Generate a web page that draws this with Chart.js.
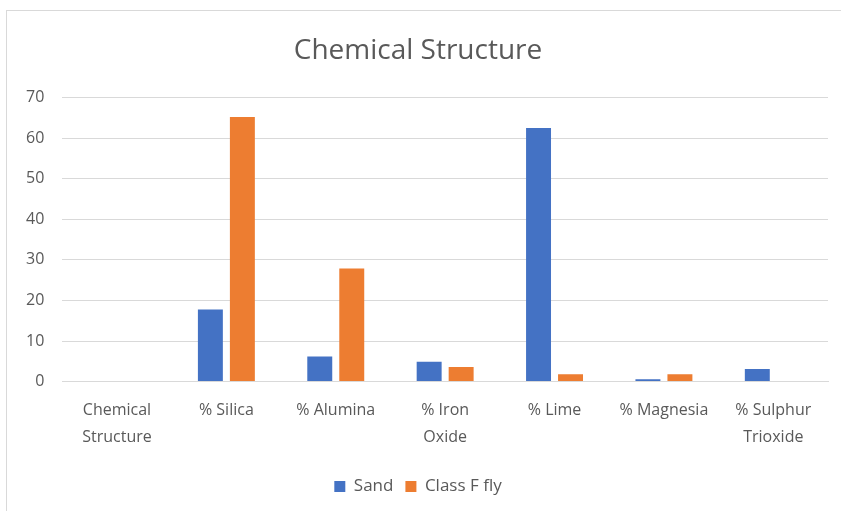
<!DOCTYPE html>
<html>
<head>
<meta charset="utf-8">
<script src="https://cdn.jsdelivr.net/npm/chart.js@4.4.0/dist/chart.umd.min.js"></script>
<style>
  html, body { margin: 0; padding: 0; background: #ffffff; }
  #wrap { position: relative; width: 841px; height: 511px; }
</style>
</head>
<body>
<div id="wrap"><canvas id="chimie"></canvas></div>
<script>
const categorias = [
  ["Chemical", "Structure"],
  "% Silica",
  "% Alumina",
  ["% Iron", "Oxide"],
  "% Lime",
  "% Magnesia",
  ["% Sulphur", "Trioxide"]
];
const areia = [0, 17.8, 6.2, 4.9, 62.5, 0.6, 3.1];
const cinzaVolante = [0, 65.2, 27.9, 3.6, 1.8, 1.8, 0];
const yTicks = [0, 10, 20, 30, 40, 50, 60, 70];

const textoCinza = "#595959";
const fonte = "'Open Sans', 'Liberation Sans', sans-serif";

// moldura cinza em volta do gráfico
const moldura = {
  id: "moldura",
  beforeDraw(chart) {
    const ctx = chart.ctx;
    ctx.save();
    ctx.fillStyle = "#ffffff";
    ctx.fillRect(0, 0, chart.width, chart.height);
    ctx.strokeStyle = "#d9d9d9";
    ctx.lineWidth = 1;
    ctx.strokeRect(6.5, 10.5, chart.width - 4, chart.height - 4);
    ctx.restore();
  }
};

new Chart(document.getElementById("chimie"), {
  type: "bar",
  data: {
    labels: categorias,
    datasets: [
      {
        label: "Sand",
        data: areia,
        backgroundColor: "#4472C4",
        borderWidth: 0,
        categoryPercentage: 0.585,
        barPercentage: 0.78
      },
      {
        label: "Class F fly",
        data: cinzaVolante,
        backgroundColor: "#ED7D31",
        borderWidth: 0,
        categoryPercentage: 0.585,
        barPercentage: 0.78
      }
    ]
  },
  options: {
    responsive: true,
    maintainAspectRatio: false,
    animation: false,
    layout: {
      padding: { left: 8, right: 13, top: 24, bottom: 6 }
    },
    scales: {
      x: {
        grid: { display: false, drawTicks: false },
        border: { display: true, color: "#d9d9d9" },
        ticks: {
          color: textoCinza,
          font: { family: fonte, size: 16, lineHeight: 1.7 },
          padding: 15,
          maxRotation: 0,
          autoSkip: false
        }
      },
      y: {
        min: 0,
        max: 70,
        afterBuildTicks(axis) {
          axis.ticks = yTicks.map((v) => ({ value: v }));
        },
        grid: { color: "#d9d9d9", drawTicks: false },
        border: { display: false },
        ticks: {
          color: textoCinza,
          font: { family: fonte, size: 16 },
          padding: 18
        }
      }
    },
    plugins: {
      title: {
        display: true,
        text: "Chemical Structure",
        color: textoCinza,
        font: { family: fonte, size: 28, weight: "normal" },
        padding: { top: 10, bottom: 30 }
      },
      legend: {
        position: "bottom",
        labels: {
          color: textoCinza,
          font: { family: fonte, size: 17 },
          boxWidth: 11,
          boxHeight: 11,
          padding: 12
        }
      },
      tooltip: { enabled: false }
    }
  },
  plugins: [moldura]
});
</script>
</body>
</html>
